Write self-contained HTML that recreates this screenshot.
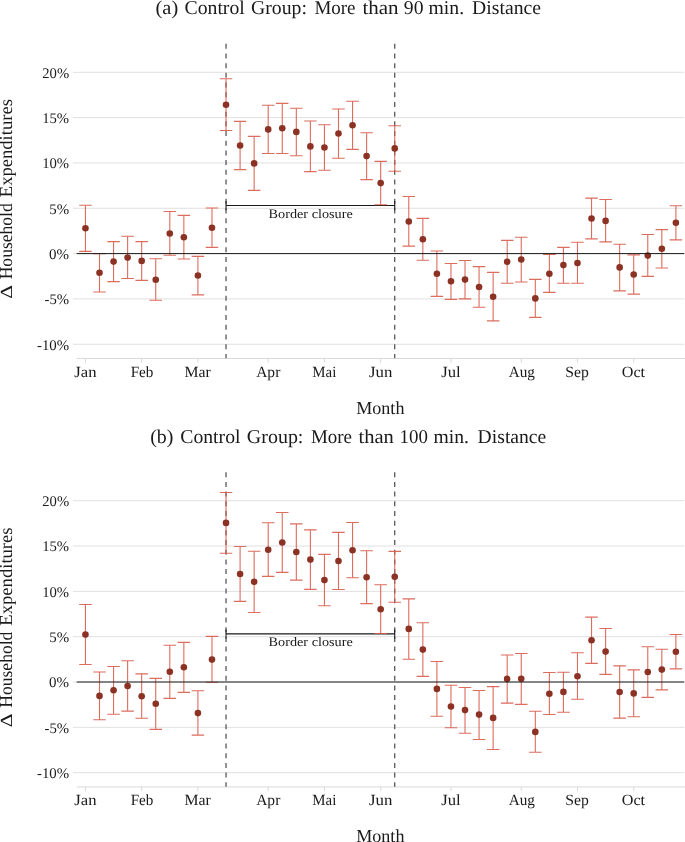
<!DOCTYPE html>
<html><head><meta charset="utf-8"><title>Household Expenditures</title>
<style>
html,body{margin:0;padding:0;background:#fff;}
body{width:685px;height:842px;overflow:hidden;position:relative;}
svg{position:absolute;left:0;top:0;display:block;}
text{font-family:"Liberation Serif", serif;fill:#1a1a1a;filter:grayscale(1);text-rendering:geometricPrecision;}
</style></head>
<body>
<svg width="685" height="842" viewBox="0 0 685 842">
<rect width="685" height="842" fill="#fff"/>
<text x="155.5" y="14" font-size="19.5" textLength="22.7" lengthAdjust="spacingAndGlyphs">(a)</text>
<text x="184.49" y="14" font-size="19.5" textLength="60.3" lengthAdjust="spacingAndGlyphs">Control</text>
<text x="250.99" y="14" font-size="19.5" textLength="55.91" lengthAdjust="spacingAndGlyphs">Group:</text>
<text x="314.45" y="14" font-size="19.5" textLength="41.1" lengthAdjust="spacingAndGlyphs">More</text>
<text x="362.4" y="14" font-size="19.5" textLength="36.12" lengthAdjust="spacingAndGlyphs">than</text>
<text x="403.87" y="14" font-size="19.5" textLength="19.68" lengthAdjust="spacingAndGlyphs">90</text>
<text x="428.49" y="14" font-size="19.5" textLength="35.61" lengthAdjust="spacingAndGlyphs">min.</text>
<text x="472.13" y="14" font-size="19.5" textLength="68.85" lengthAdjust="spacingAndGlyphs">Distance</text>
<line x1="73" x2="684.3" y1="72.3" y2="72.3" stroke="#e0e0e0" stroke-width="1"/>
<line x1="73" x2="684.3" y1="117.62" y2="117.62" stroke="#e0e0e0" stroke-width="1"/>
<line x1="73" x2="684.3" y1="162.95" y2="162.95" stroke="#e0e0e0" stroke-width="1"/>
<line x1="73" x2="684.3" y1="208.28" y2="208.28" stroke="#e0e0e0" stroke-width="1"/>
<line x1="73" x2="684.3" y1="253.6" y2="253.6" stroke="#e0e0e0" stroke-width="1"/>
<line x1="73" x2="684.3" y1="298.93" y2="298.93" stroke="#e0e0e0" stroke-width="1"/>
<line x1="73" x2="684.3" y1="344.25" y2="344.25" stroke="#e0e0e0" stroke-width="1"/>
<text x="42.26" y="77.6" font-size="14.7" textLength="26.84" lengthAdjust="spacingAndGlyphs">20%</text>
<text x="42.21" y="122.92" font-size="14.7" textLength="26.89" lengthAdjust="spacingAndGlyphs">15%</text>
<text x="42.21" y="168.25" font-size="14.7" textLength="26.89" lengthAdjust="spacingAndGlyphs">10%</text>
<text x="49.23" y="213.58" font-size="14.7" textLength="19.88" lengthAdjust="spacingAndGlyphs">5%</text>
<text x="49.13" y="258.9" font-size="14.7" textLength="19.98" lengthAdjust="spacingAndGlyphs">0%</text>
<text x="44.55" y="304.23" font-size="14.7" textLength="24.55" lengthAdjust="spacingAndGlyphs">-5%</text>
<text x="36.95" y="349.55" font-size="14.7" textLength="32.16" lengthAdjust="spacingAndGlyphs">-10%</text>
<line x1="76.8" x2="685" y1="358.5" y2="358.5" stroke="#d9d9d9" stroke-width="1"/>
<line x1="85.45" x2="85.45" y1="358.5" y2="362.7" stroke="#d9d9d9" stroke-width="1"/>
<text x="74.25" y="376.8" font-size="15.6" textLength="22.3" lengthAdjust="spacingAndGlyphs">Jan</text>
<line x1="141.68" x2="141.68" y1="358.5" y2="362.7" stroke="#d9d9d9" stroke-width="1"/>
<text x="130.66" y="376.8" font-size="15.6" textLength="22.71" lengthAdjust="spacingAndGlyphs">Feb</text>
<line x1="197.91" x2="197.91" y1="358.5" y2="362.7" stroke="#d9d9d9" stroke-width="1"/>
<text x="184.55" y="376.8" font-size="15.6" textLength="26.29" lengthAdjust="spacingAndGlyphs">Mar</text>
<line x1="268.2" x2="268.2" y1="358.5" y2="362.7" stroke="#d9d9d9" stroke-width="1"/>
<text x="256.15" y="376.8" font-size="15.6" textLength="24.19" lengthAdjust="spacingAndGlyphs">Apr</text>
<line x1="324.44" x2="324.44" y1="358.5" y2="362.7" stroke="#d9d9d9" stroke-width="1"/>
<text x="312.37" y="376.8" font-size="15.6" textLength="24.01" lengthAdjust="spacingAndGlyphs">Mai</text>
<line x1="380.67" x2="380.67" y1="358.5" y2="362.7" stroke="#d9d9d9" stroke-width="1"/>
<text x="368.95" y="376.8" font-size="15.6" textLength="23.41" lengthAdjust="spacingAndGlyphs">Jun</text>
<line x1="450.96" x2="450.96" y1="358.5" y2="362.7" stroke="#d9d9d9" stroke-width="1"/>
<text x="441.25" y="376.8" font-size="15.6" textLength="19.48" lengthAdjust="spacingAndGlyphs">Jul</text>
<line x1="521.25" x2="521.25" y1="358.5" y2="362.7" stroke="#d9d9d9" stroke-width="1"/>
<text x="508.65" y="376.8" font-size="15.6" textLength="26.24" lengthAdjust="spacingAndGlyphs">Aug</text>
<line x1="577.48" x2="577.48" y1="358.5" y2="362.7" stroke="#d9d9d9" stroke-width="1"/>
<text x="565.35" y="376.8" font-size="15.6" textLength="23.57" lengthAdjust="spacingAndGlyphs">Sep</text>
<line x1="633.71" x2="633.71" y1="358.5" y2="362.7" stroke="#d9d9d9" stroke-width="1"/>
<text x="621.74" y="376.8" font-size="15.6" textLength="23.36" lengthAdjust="spacingAndGlyphs">Oct</text>
<text x="356.28" y="413.7" font-size="18.3" textLength="48.16" lengthAdjust="spacingAndGlyphs">Month</text>
<g transform="translate(11.9 0) rotate(-90)"><text x="-298.81" y="0" font-size="17.0" textLength="13.71" lengthAdjust="spacingAndGlyphs">&#916;</text><text x="-279.31" y="0" font-size="18.3" textLength="76.02" lengthAdjust="spacingAndGlyphs">Household</text><text x="-197.24" y="0" font-size="18.3" textLength="98.21" lengthAdjust="spacingAndGlyphs">Expenditures</text></g>
<line x1="226.03" x2="226.03" y1="43.8" y2="358.3" stroke="#4a4a4a" stroke-width="1.2" stroke-dasharray="5 4.69"/>
<line x1="394.73" x2="394.73" y1="43.8" y2="358.3" stroke="#4a4a4a" stroke-width="1.2" stroke-dasharray="5 4.69"/>
<path d="M226.03 201V210M226.03 205.5H394.73M394.73 201V210" stroke="#1a1a1a" stroke-width="1.1" fill="none"/>
<text x="268.59" y="217.6" font-size="13.0" textLength="84.2" lengthAdjust="spacingAndGlyphs">Border closure</text>
<path d="M85.45 205.3V251.4M79.2 205.3H91.7M79.2 251.4H91.7M99.51 253.6V292M93.26 253.6H105.76M93.26 292H105.76M113.57 241.6V281.6M107.32 241.6H119.82M107.32 281.6H119.82M127.62 236.3V278.5M121.37 236.3H133.87M121.37 278.5H133.87M141.68 241.6V280.4M135.43 241.6H147.93M135.43 280.4H147.93M155.74 258.8V300.3M149.49 258.8H161.99M149.49 300.3H161.99M169.8 211.5V255.3M163.55 211.5H176.05M163.55 255.3H176.05M183.86 215.4V259M177.61 215.4H190.11M177.61 259H190.11M197.91 256.4V294.9M191.66 256.4H204.16M191.66 294.9H204.16M211.97 208V247.4M205.72 208H218.22M205.72 247.4H218.22M226.03 78.8V130.5M219.78 78.8H232.28M219.78 130.5H232.28M240.09 121.4V169.6M233.84 121.4H246.34M233.84 169.6H246.34M254.15 136.4V190.4M247.9 136.4H260.4M247.9 190.4H260.4M268.2 105.2V153.5M261.95 105.2H274.45M261.95 153.5H274.45M282.26 103.4V153.5M276.01 103.4H288.51M276.01 153.5H288.51M296.32 108.2V155.7M290.07 108.2H302.57M290.07 155.7H302.57M310.38 121V171.6M304.13 121H316.63M304.13 171.6H316.63M324.44 124.8V170.2M318.19 124.8H330.69M318.19 170.2H330.69M338.49 109V158.3M332.24 109H344.74M332.24 158.3H344.74M352.55 101.3V149.4M346.3 101.3H358.8M346.3 149.4H358.8M366.61 132.8V179.6M360.36 132.8H372.86M360.36 179.6H372.86M380.67 161.4V204.7M374.42 161.4H386.92M374.42 204.7H386.92M394.73 125.8V171.2M388.48 125.8H400.98M388.48 171.2H400.98M408.78 196.5V246.1M402.53 196.5H415.03M402.53 246.1H415.03M422.84 218.4V260.3M416.59 218.4H429.09M416.59 260.3H429.09M436.9 251V296.4M430.65 251H443.15M430.65 296.4H443.15M450.96 263.5V299.4M444.71 263.5H457.21M444.71 299.4H457.21M465.02 260.5V298.9M458.77 260.5H471.27M458.77 298.9H471.27M479.07 266.6V307.2M472.82 266.6H485.32M472.82 307.2H485.32M493.13 272.4V320.9M486.88 272.4H499.38M486.88 320.9H499.38M507.19 240.4V283.2M500.94 240.4H513.44M500.94 283.2H513.44M521.25 237.2V282M515 237.2H527.5M515 282H527.5M535.31 279.4V317.4M529.06 279.4H541.56M529.06 317.4H541.56M549.36 254.4V292.4M543.11 254.4H555.61M543.11 292.4H555.61M563.42 247.4V283.2M557.17 247.4H569.67M557.17 283.2H569.67M577.48 242.3V283.2M571.23 242.3H583.73M571.23 283.2H583.73M591.54 198.1V238.9M585.29 198.1H597.79M585.29 238.9H597.79M605.6 199.5V241.9M599.35 199.5H611.85M599.35 241.9H611.85M619.65 244.2V290.9M613.4 244.2H625.9M613.4 290.9H625.9M633.71 254.9V294.1M627.46 254.9H639.96M627.46 294.1H639.96M647.77 234.5V276.4M641.52 234.5H654.02M641.52 276.4H654.02M661.83 229.6V268M655.58 229.6H668.08M655.58 268H668.08M675.89 205.7V239.9M669.64 205.7H682.14M669.64 239.9H682.14" stroke="#d85c4c" stroke-opacity="0.9" stroke-width="1.1" fill="none"/>
<circle cx="85.45" cy="228.3" r="3.3" fill="#8b3224"/>
<circle cx="99.51" cy="272.8" r="3.3" fill="#8b3224"/>
<circle cx="113.57" cy="261.6" r="3.3" fill="#8b3224"/>
<circle cx="127.62" cy="257.6" r="3.3" fill="#8b3224"/>
<circle cx="141.68" cy="260.9" r="3.3" fill="#8b3224"/>
<circle cx="155.74" cy="279.8" r="3.3" fill="#8b3224"/>
<circle cx="169.8" cy="233.5" r="3.3" fill="#8b3224"/>
<circle cx="183.86" cy="237.2" r="3.3" fill="#8b3224"/>
<circle cx="197.91" cy="275.5" r="3.3" fill="#8b3224"/>
<circle cx="211.97" cy="227.8" r="3.3" fill="#8b3224"/>
<circle cx="226.03" cy="104.7" r="3.3" fill="#8b3224"/>
<circle cx="240.09" cy="145.5" r="3.3" fill="#8b3224"/>
<circle cx="254.15" cy="163.4" r="3.3" fill="#8b3224"/>
<circle cx="268.2" cy="129.4" r="3.3" fill="#8b3224"/>
<circle cx="282.26" cy="128.3" r="3.3" fill="#8b3224"/>
<circle cx="296.32" cy="131.9" r="3.3" fill="#8b3224"/>
<circle cx="310.38" cy="146.4" r="3.3" fill="#8b3224"/>
<circle cx="324.44" cy="147.5" r="3.3" fill="#8b3224"/>
<circle cx="338.49" cy="133.5" r="3.3" fill="#8b3224"/>
<circle cx="352.55" cy="125.3" r="3.3" fill="#8b3224"/>
<circle cx="366.61" cy="156.1" r="3.3" fill="#8b3224"/>
<circle cx="380.67" cy="183.1" r="3.3" fill="#8b3224"/>
<circle cx="394.73" cy="148.4" r="3.3" fill="#8b3224"/>
<circle cx="408.78" cy="221.5" r="3.3" fill="#8b3224"/>
<circle cx="422.84" cy="239.2" r="3.3" fill="#8b3224"/>
<circle cx="436.9" cy="273.7" r="3.3" fill="#8b3224"/>
<circle cx="450.96" cy="281.3" r="3.3" fill="#8b3224"/>
<circle cx="465.02" cy="279.6" r="3.3" fill="#8b3224"/>
<circle cx="479.07" cy="287" r="3.3" fill="#8b3224"/>
<circle cx="493.13" cy="296.7" r="3.3" fill="#8b3224"/>
<circle cx="507.19" cy="261.8" r="3.3" fill="#8b3224"/>
<circle cx="521.25" cy="259.5" r="3.3" fill="#8b3224"/>
<circle cx="535.31" cy="298.4" r="3.3" fill="#8b3224"/>
<circle cx="549.36" cy="273.7" r="3.3" fill="#8b3224"/>
<circle cx="563.42" cy="265.1" r="3.3" fill="#8b3224"/>
<circle cx="577.48" cy="263" r="3.3" fill="#8b3224"/>
<circle cx="591.54" cy="218.5" r="3.3" fill="#8b3224"/>
<circle cx="605.6" cy="220.9" r="3.3" fill="#8b3224"/>
<circle cx="619.65" cy="267.4" r="3.3" fill="#8b3224"/>
<circle cx="633.71" cy="274.5" r="3.3" fill="#8b3224"/>
<circle cx="647.77" cy="255.6" r="3.3" fill="#8b3224"/>
<circle cx="661.83" cy="248.7" r="3.3" fill="#8b3224"/>
<circle cx="675.89" cy="222.8" r="3.3" fill="#8b3224"/>
<line x1="76.7" x2="684.3" y1="253.6" y2="253.6" stroke="#1a1a1a" stroke-width="1"/>
<text x="150.22" y="442.5" font-size="19.5" textLength="23.25" lengthAdjust="spacingAndGlyphs">(b)</text>
<text x="180.29" y="442.5" font-size="19.5" textLength="60.2" lengthAdjust="spacingAndGlyphs">Control</text>
<text x="246.88" y="442.5" font-size="19.5" textLength="56.54" lengthAdjust="spacingAndGlyphs">Group:</text>
<text x="310.95" y="442.5" font-size="19.5" textLength="41.1" lengthAdjust="spacingAndGlyphs">More</text>
<text x="358.5" y="442.5" font-size="19.5" textLength="35.31" lengthAdjust="spacingAndGlyphs">than</text>
<text x="399.54" y="442.5" font-size="19.5" textLength="28.38" lengthAdjust="spacingAndGlyphs">100</text>
<text x="433.49" y="442.5" font-size="19.5" textLength="35.51" lengthAdjust="spacingAndGlyphs">min.</text>
<text x="477.63" y="442.5" font-size="19.5" textLength="68.65" lengthAdjust="spacingAndGlyphs">Distance</text>
<line x1="73" x2="684.3" y1="500.7" y2="500.7" stroke="#e0e0e0" stroke-width="1"/>
<line x1="73" x2="684.3" y1="546.02" y2="546.02" stroke="#e0e0e0" stroke-width="1"/>
<line x1="73" x2="684.3" y1="591.35" y2="591.35" stroke="#e0e0e0" stroke-width="1"/>
<line x1="73" x2="684.3" y1="636.67" y2="636.67" stroke="#e0e0e0" stroke-width="1"/>
<line x1="73" x2="684.3" y1="682" y2="682" stroke="#e0e0e0" stroke-width="1"/>
<line x1="73" x2="684.3" y1="727.33" y2="727.33" stroke="#e0e0e0" stroke-width="1"/>
<line x1="73" x2="684.3" y1="772.65" y2="772.65" stroke="#e0e0e0" stroke-width="1"/>
<text x="42.26" y="506" font-size="14.7" textLength="26.84" lengthAdjust="spacingAndGlyphs">20%</text>
<text x="42.21" y="551.32" font-size="14.7" textLength="26.89" lengthAdjust="spacingAndGlyphs">15%</text>
<text x="42.21" y="596.65" font-size="14.7" textLength="26.89" lengthAdjust="spacingAndGlyphs">10%</text>
<text x="49.23" y="641.97" font-size="14.7" textLength="19.88" lengthAdjust="spacingAndGlyphs">5%</text>
<text x="49.13" y="687.3" font-size="14.7" textLength="19.98" lengthAdjust="spacingAndGlyphs">0%</text>
<text x="44.55" y="732.62" font-size="14.7" textLength="24.55" lengthAdjust="spacingAndGlyphs">-5%</text>
<text x="36.95" y="777.95" font-size="14.7" textLength="32.16" lengthAdjust="spacingAndGlyphs">-10%</text>
<line x1="76.8" x2="685" y1="786.9" y2="786.9" stroke="#d9d9d9" stroke-width="1"/>
<line x1="85.45" x2="85.45" y1="786.9" y2="791.1" stroke="#d9d9d9" stroke-width="1"/>
<text x="74.25" y="805.2" font-size="15.6" textLength="22.3" lengthAdjust="spacingAndGlyphs">Jan</text>
<line x1="141.68" x2="141.68" y1="786.9" y2="791.1" stroke="#d9d9d9" stroke-width="1"/>
<text x="130.66" y="805.2" font-size="15.6" textLength="22.71" lengthAdjust="spacingAndGlyphs">Feb</text>
<line x1="197.91" x2="197.91" y1="786.9" y2="791.1" stroke="#d9d9d9" stroke-width="1"/>
<text x="184.55" y="805.2" font-size="15.6" textLength="26.29" lengthAdjust="spacingAndGlyphs">Mar</text>
<line x1="268.2" x2="268.2" y1="786.9" y2="791.1" stroke="#d9d9d9" stroke-width="1"/>
<text x="256.15" y="805.2" font-size="15.6" textLength="24.19" lengthAdjust="spacingAndGlyphs">Apr</text>
<line x1="324.44" x2="324.44" y1="786.9" y2="791.1" stroke="#d9d9d9" stroke-width="1"/>
<text x="312.37" y="805.2" font-size="15.6" textLength="24.01" lengthAdjust="spacingAndGlyphs">Mai</text>
<line x1="380.67" x2="380.67" y1="786.9" y2="791.1" stroke="#d9d9d9" stroke-width="1"/>
<text x="368.95" y="805.2" font-size="15.6" textLength="23.41" lengthAdjust="spacingAndGlyphs">Jun</text>
<line x1="450.96" x2="450.96" y1="786.9" y2="791.1" stroke="#d9d9d9" stroke-width="1"/>
<text x="441.25" y="805.2" font-size="15.6" textLength="19.48" lengthAdjust="spacingAndGlyphs">Jul</text>
<line x1="521.25" x2="521.25" y1="786.9" y2="791.1" stroke="#d9d9d9" stroke-width="1"/>
<text x="508.65" y="805.2" font-size="15.6" textLength="26.24" lengthAdjust="spacingAndGlyphs">Aug</text>
<line x1="577.48" x2="577.48" y1="786.9" y2="791.1" stroke="#d9d9d9" stroke-width="1"/>
<text x="565.35" y="805.2" font-size="15.6" textLength="23.57" lengthAdjust="spacingAndGlyphs">Sep</text>
<line x1="633.71" x2="633.71" y1="786.9" y2="791.1" stroke="#d9d9d9" stroke-width="1"/>
<text x="621.74" y="805.2" font-size="15.6" textLength="23.36" lengthAdjust="spacingAndGlyphs">Oct</text>
<text x="356.28" y="842.1" font-size="18.3" textLength="48.16" lengthAdjust="spacingAndGlyphs">Month</text>
<g transform="translate(11.9 428.4) rotate(-90)"><text x="-298.81" y="0" font-size="17.0" textLength="13.71" lengthAdjust="spacingAndGlyphs">&#916;</text><text x="-279.31" y="0" font-size="18.3" textLength="76.02" lengthAdjust="spacingAndGlyphs">Household</text><text x="-197.24" y="0" font-size="18.3" textLength="98.21" lengthAdjust="spacingAndGlyphs">Expenditures</text></g>
<line x1="226.03" x2="226.03" y1="472.2" y2="786.7" stroke="#4a4a4a" stroke-width="1.2" stroke-dasharray="5 4.69"/>
<line x1="394.73" x2="394.73" y1="472.2" y2="786.7" stroke="#4a4a4a" stroke-width="1.2" stroke-dasharray="5 4.69"/>
<path d="M226.03 629.4V638.4M226.03 633.9H394.73M394.73 629.4V638.4" stroke="#1a1a1a" stroke-width="1.1" fill="none"/>
<text x="268.59" y="646" font-size="13.0" textLength="84.2" lengthAdjust="spacingAndGlyphs">Border closure</text>
<path d="M85.45 604.5V664.5M79.2 604.5H91.7M79.2 664.5H91.7M99.51 672V719.7M93.26 672H105.76M93.26 719.7H105.76M113.57 666.5V714.2M107.32 666.5H119.82M107.32 714.2H119.82M127.62 660.7V711.1M121.37 660.7H133.87M121.37 711.1H133.87M141.68 673.9V718.3M135.43 673.9H147.93M135.43 718.3H147.93M155.74 678.4V729.4M149.49 678.4H161.99M149.49 729.4H161.99M169.8 645.2V698.4M163.55 645.2H176.05M163.55 698.4H176.05M183.86 642.4V692.4M177.61 642.4H190.11M177.61 692.4H190.11M197.91 690.8V735.1M191.66 690.8H204.16M191.66 735.1H204.16M211.97 636.4V682.3M205.72 636.4H218.22M205.72 682.3H218.22M226.03 492.5V553.2M219.78 492.5H232.28M219.78 553.2H232.28M240.09 546.5V601.4M233.84 546.5H246.34M233.84 601.4H246.34M254.15 551.2V612.5M247.9 551.2H260.4M247.9 612.5H260.4M268.2 522.7V576.4M261.95 522.7H274.45M261.95 576.4H274.45M282.26 512.5V572.4M276.01 512.5H288.51M276.01 572.4H288.51M296.32 523.9V580.1M290.07 523.9H302.57M290.07 580.1H302.57M310.38 529.9V589.4M304.13 529.9H316.63M304.13 589.4H316.63M324.44 554.4V605.7M318.19 554.4H330.69M318.19 605.7H330.69M338.49 532.4V589.5M332.24 532.4H344.74M332.24 589.5H344.74M352.55 522.5V577.7M346.3 522.5H358.8M346.3 577.7H358.8M366.61 550.7V603.6M360.36 550.7H372.86M360.36 603.6H372.86M380.67 584.8V633.5M374.42 584.8H386.92M374.42 633.5H386.92M394.73 551.4V602.3M388.48 551.4H400.98M388.48 602.3H400.98M408.78 598.9V659.3M402.53 598.9H415.03M402.53 659.3H415.03M422.84 622.7V676.4M416.59 622.7H429.09M416.59 676.4H429.09M436.9 661.5V716.3M430.65 661.5H443.15M430.65 716.3H443.15M450.96 685.3V727.8M444.71 685.3H457.21M444.71 727.8H457.21M465.02 687.5V733.2M458.77 687.5H471.27M458.77 733.2H471.27M479.07 690.5V739.5M472.82 690.5H485.32M472.82 739.5H485.32M493.13 686.6V749.5M486.88 686.6H499.38M486.88 749.5H499.38M507.19 655V703.1M500.94 655H513.44M500.94 703.1H513.44M521.25 653.5V704.4M515 653.5H527.5M515 704.4H527.5M535.31 711.3V752.3M529.06 711.3H541.56M529.06 752.3H541.56M549.36 672.5V714.5M543.11 672.5H555.61M543.11 714.5H555.61M563.42 672.3V712.2M557.17 672.3H569.67M557.17 712.2H569.67M577.48 652.7V699.3M571.23 652.7H583.73M571.23 699.3H583.73M591.54 617.1V663.4M585.29 617.1H597.79M585.29 663.4H597.79M605.6 628.5V674.4M599.35 628.5H611.85M599.35 674.4H611.85M619.65 665.9V718.1M613.4 665.9H625.9M613.4 718.1H625.9M633.71 669.9V716.7M627.46 669.9H639.96M627.46 716.7H639.96M647.77 646.7V697.4M641.52 646.7H654.02M641.52 697.4H654.02M661.83 649.2V689.9M655.58 649.2H668.08M655.58 689.9H668.08M675.89 634.5V668.9M669.64 634.5H682.14M669.64 668.9H682.14" stroke="#d85c4c" stroke-opacity="0.9" stroke-width="1.1" fill="none"/>
<circle cx="85.45" cy="634.6" r="3.3" fill="#8b3224"/>
<circle cx="99.51" cy="695.9" r="3.3" fill="#8b3224"/>
<circle cx="113.57" cy="690.3" r="3.3" fill="#8b3224"/>
<circle cx="127.62" cy="686" r="3.3" fill="#8b3224"/>
<circle cx="141.68" cy="696.2" r="3.3" fill="#8b3224"/>
<circle cx="155.74" cy="703.8" r="3.3" fill="#8b3224"/>
<circle cx="169.8" cy="671.7" r="3.3" fill="#8b3224"/>
<circle cx="183.86" cy="667.3" r="3.3" fill="#8b3224"/>
<circle cx="197.91" cy="713.1" r="3.3" fill="#8b3224"/>
<circle cx="211.97" cy="659.6" r="3.3" fill="#8b3224"/>
<circle cx="226.03" cy="522.9" r="3.3" fill="#8b3224"/>
<circle cx="240.09" cy="574" r="3.3" fill="#8b3224"/>
<circle cx="254.15" cy="581.8" r="3.3" fill="#8b3224"/>
<circle cx="268.2" cy="549.8" r="3.3" fill="#8b3224"/>
<circle cx="282.26" cy="542.5" r="3.3" fill="#8b3224"/>
<circle cx="296.32" cy="552" r="3.3" fill="#8b3224"/>
<circle cx="310.38" cy="559.6" r="3.3" fill="#8b3224"/>
<circle cx="324.44" cy="580.1" r="3.3" fill="#8b3224"/>
<circle cx="338.49" cy="561" r="3.3" fill="#8b3224"/>
<circle cx="352.55" cy="550.2" r="3.3" fill="#8b3224"/>
<circle cx="366.61" cy="577.3" r="3.3" fill="#8b3224"/>
<circle cx="380.67" cy="609.3" r="3.3" fill="#8b3224"/>
<circle cx="394.73" cy="576.7" r="3.3" fill="#8b3224"/>
<circle cx="408.78" cy="628.9" r="3.3" fill="#8b3224"/>
<circle cx="422.84" cy="649.6" r="3.3" fill="#8b3224"/>
<circle cx="436.9" cy="688.9" r="3.3" fill="#8b3224"/>
<circle cx="450.96" cy="706.5" r="3.3" fill="#8b3224"/>
<circle cx="465.02" cy="710.1" r="3.3" fill="#8b3224"/>
<circle cx="479.07" cy="714.6" r="3.3" fill="#8b3224"/>
<circle cx="493.13" cy="717.9" r="3.3" fill="#8b3224"/>
<circle cx="507.19" cy="678.9" r="3.3" fill="#8b3224"/>
<circle cx="521.25" cy="678.8" r="3.3" fill="#8b3224"/>
<circle cx="535.31" cy="731.9" r="3.3" fill="#8b3224"/>
<circle cx="549.36" cy="693.7" r="3.3" fill="#8b3224"/>
<circle cx="563.42" cy="691.9" r="3.3" fill="#8b3224"/>
<circle cx="577.48" cy="676.2" r="3.3" fill="#8b3224"/>
<circle cx="591.54" cy="640.3" r="3.3" fill="#8b3224"/>
<circle cx="605.6" cy="651.6" r="3.3" fill="#8b3224"/>
<circle cx="619.65" cy="692" r="3.3" fill="#8b3224"/>
<circle cx="633.71" cy="693.4" r="3.3" fill="#8b3224"/>
<circle cx="647.77" cy="672" r="3.3" fill="#8b3224"/>
<circle cx="661.83" cy="669.6" r="3.3" fill="#8b3224"/>
<circle cx="675.89" cy="651.7" r="3.3" fill="#8b3224"/>
<line x1="76.7" x2="684.3" y1="682" y2="682" stroke="#1a1a1a" stroke-width="1"/>
</svg>
</body></html>
